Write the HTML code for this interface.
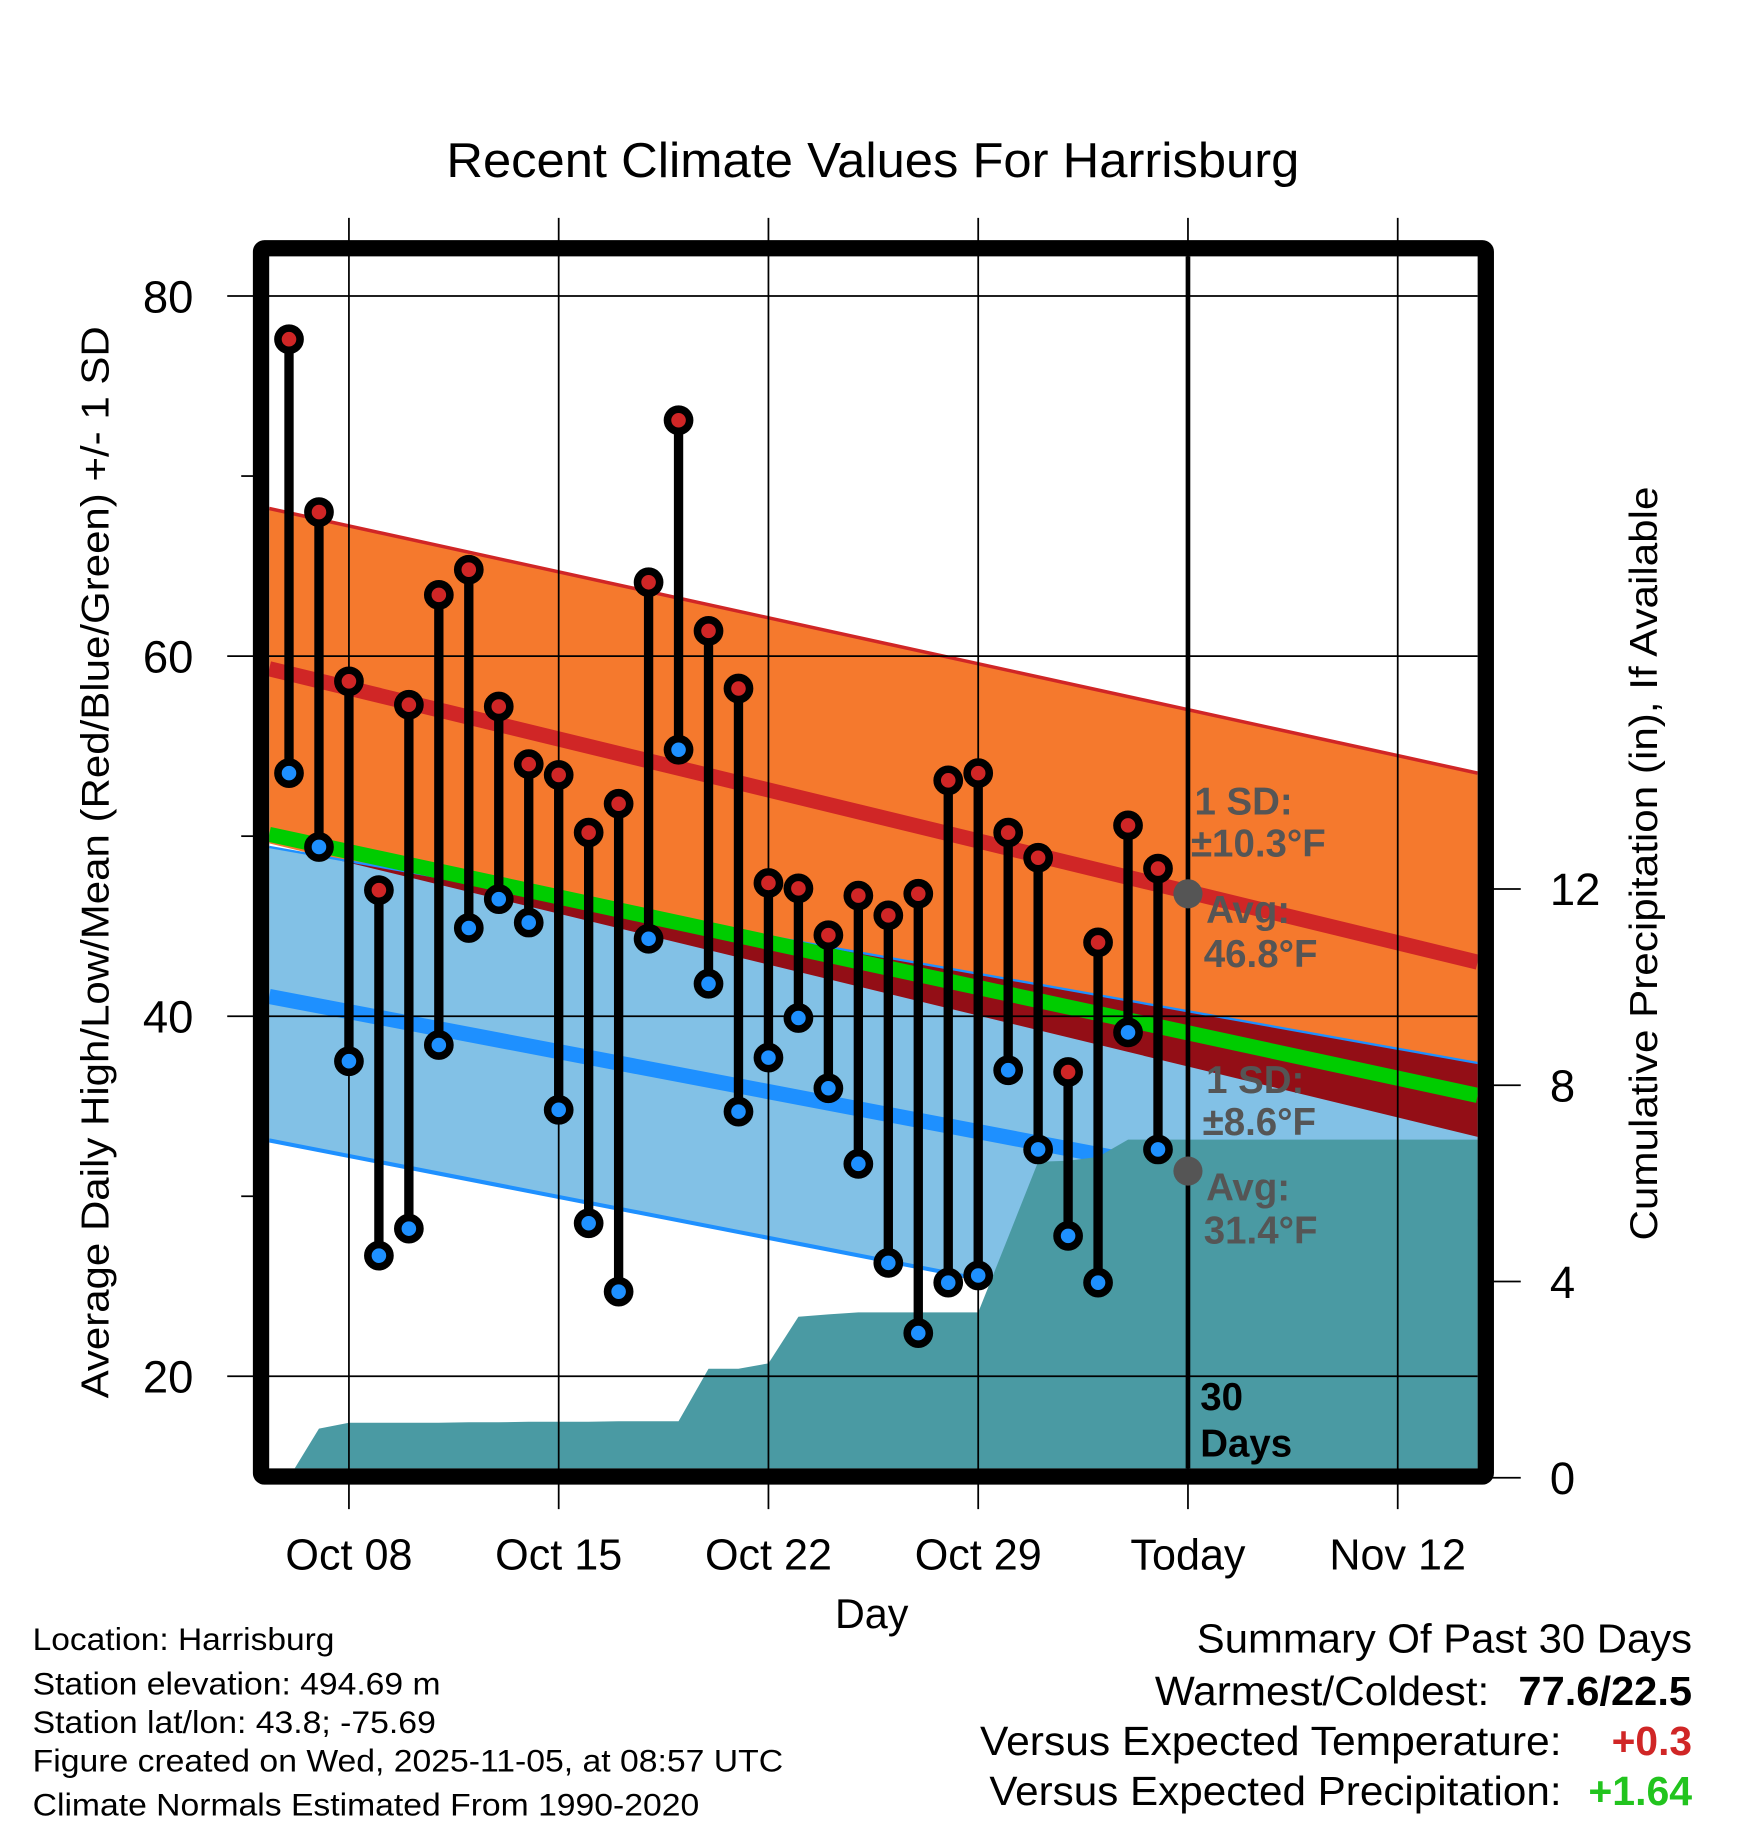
<!DOCTYPE html>
<html><head><meta charset="utf-8"><style>
html,body{margin:0;padding:0;background:#fff}
svg{display:block}
text{font-family:"Liberation Sans",Arial,sans-serif}
</style></head><body>
<svg id="chart" width="1748" height="1828" viewBox="0 0 1500 1568.6" preserveAspectRatio="none" xmlns="http://www.w3.org/2000/svg">
<text x="749" y="152" font-size="42" text-anchor="middle" textLength="732" lengthAdjust="spacingAndGlyphs">Recent Climate Values For Harrisburg</text>
<g id="layers"></g>
<text transform="translate(93,740) rotate(-90)" font-size="33" text-anchor="middle" textLength="920" lengthAdjust="spacingAndGlyphs">Average Daily High/Low/Mean (Red/Blue/Green) +/- 1 SD</text>
<text transform="translate(1422,741) rotate(-90)" font-size="33" text-anchor="middle" textLength="647" lengthAdjust="spacingAndGlyphs">Cumulative Precipitation (in), If Available</text>
<text x="748" y="1397" font-size="36" text-anchor="middle" textLength="63" lengthAdjust="spacingAndGlyphs">Day</text>
<g font-size="27">
<text x="28" y="1416" textLength="259" lengthAdjust="spacingAndGlyphs">Location: Harrisburg</text>
<text x="28" y="1454" textLength="350" lengthAdjust="spacingAndGlyphs">Station elevation: 494.69 m</text>
<text x="28" y="1487" textLength="346" lengthAdjust="spacingAndGlyphs">Station lat/lon: 43.8; -75.69</text>
<text x="28" y="1520" textLength="644" lengthAdjust="spacingAndGlyphs">Figure created on Wed, 2025-11-05, at 08:57 UTC</text>
<text x="28" y="1558" textLength="572" lengthAdjust="spacingAndGlyphs">Climate Normals Estimated From 1990-2020</text>
</g>
<g font-size="35">
<text x="1027" y="1418" textLength="425" lengthAdjust="spacingAndGlyphs">Summary Of Past 30 Days</text>
<text x="991" y="1463" textLength="287" lengthAdjust="spacingAndGlyphs">Warmest/Coldest:</text>
<text x="1303" y="1463" font-weight="bold" textLength="149" lengthAdjust="spacingAndGlyphs">77.6/22.5</text>
<text x="841" y="1506" textLength="499" lengthAdjust="spacingAndGlyphs">Versus Expected Temperature:</text>
<text x="1383" y="1506" font-weight="bold" fill="#d02626" textLength="69" lengthAdjust="spacingAndGlyphs">+0.3</text>
<text x="849" y="1549" textLength="491" lengthAdjust="spacingAndGlyphs">Versus Expected Precipitation:</text>
<text x="1363" y="1549" font-weight="bold" fill="#22c41e" textLength="89" lengthAdjust="spacingAndGlyphs">+1.64</text>
</g>
</svg>
<script>
// data (day index 0 = Oct 06)
const highs = [77.6,68.0,58.6,47.0,57.3,63.4,64.8,57.2,54.0,53.4,50.2,51.8,64.1,73.1,61.4,58.2,47.4,47.1,44.5,46.7,45.6,46.8,53.1,53.5,50.2,48.8,36.9,44.1,50.6,48.2];
const lows  = [53.5,49.4,37.5,26.7,28.2,38.4,44.9,46.5,45.2,34.8,28.5,24.7,44.3,54.8,41.8,34.7,37.7,39.9,36.0,31.8,26.3,22.4,25.2,25.6,37.0,32.6,27.8,25.2,39.1,32.6];
const precip = [0,1.00,1.12,1.12,1.12,1.12,1.13,1.13,1.14,1.14,1.14,1.15,1.15,1.15,2.22,2.22,2.33,3.28,3.33,3.37,3.37,3.37,3.37,3.37,4.9,6.44,6.46,6.54,6.89,6.89];
// normals at plot left edge / right edge
const normHigh = [59.3,43.0];
const normHighPlusSD = [68.2,53.5];
const normHighMinusSD = [49.6,33.3];
const normMean = [50.1,35.6];
const normLow = [41.1,28.3];
const normLowPlusSD = [49.4,37.4];
const normLowMinusSD = [33.1,20.0];
const xTickLabels = ["Oct 08","Oct 15","Oct 22","Oct 29","Today","Nov 12"];
const xTickDays = [2,9,16,23,30,37];
const yTicks = [20,40,60,80];
const yMinor = [30,50,70];
const pTicks = [0,4,8,12];

const L=231,R=1268,T=220,B=1260;
const X=d=>248+d*25.714;
const Y=v=>254+(80-v)*15.45;
const P=v=>1268-v*42.1;
const NS="http://www.w3.org/2000/svg";
const g=document.getElementById('layers');
function mk(tag,attrs,parent){const e=document.createElementNS(NS,tag);for(const k in attrs)e.setAttribute(k,attrs[k]);(parent||g).appendChild(e);return e;}
const defs=mk('defs',{});const cp=mk('clipPath',{id:'pc'},defs);mk('rect',{x:L,y:T,width:R-L,height:B-T},cp);
const plot=mk('g',{'clip-path':'url(#pc)'});
function band(a,b,fill,name){
  const e=mk('polygon',{points:`${L},${Y(a[0])} ${R},${Y(a[1])} ${R},${Y(b[1])} ${L},${Y(b[0])}`,fill:fill},plot);
  
  
}
function line(a,col,w,name){
  const e=mk('line',{x1:L,y1:Y(a[0]),x2:R,y2:Y(a[1]),stroke:col,'stroke-width':w},plot);
  
  
}
band(normHighPlusSD,normHighMinusSD,'#f5792d','high-sd-band');
band(normLowPlusSD,normLowMinusSD,'#82c1e6','low-sd-band');
{
  const d0=normHighMinusSD[0]-normLowPlusSD[0], d1=normHighMinusSD[1]-normLowPlusSD[1];
  let t=d0/(d0-d1); if(t<0)t=0; if(t>1)t=1;
  const xi=L+t*(R-L), vi=normLowPlusSD[0]+t*(normLowPlusSD[1]-normLowPlusSD[0]);
  const e=mk('polygon',{points:`${xi},${Y(vi)} ${R},${Y(normLowPlusSD[1])} ${R},${Y(normHighMinusSD[1])}`,fill:'#930e16'},plot);
  
  
}
line(normHighPlusSD,'#d02626',3,'high-plus-sd-line');
line(normLowPlusSD,'#1e90ff',2,'low-plus-sd-line');
line(normLowMinusSD,'#1e90ff',3.5,'low-minus-sd-line');
line(normMean,'#00cc00',13,'normal-mean-line');
line(normHigh,'#d02626',13,'normal-high-line');
line(normLow,'#1e90ff',13,'normal-low-line');
xTickDays.forEach((d,i)=>{
  const e=mk('line',{x1:X(d),y1:187,x2:X(d),y2:1295,stroke:'#000','stroke-width':1.5});
  
  
  const t=mk('text',{x:X(d),y:1347,'font-size':37,'text-anchor':'middle'});t.textContent=xTickLabels[i];
  
  
});
yTicks.forEach(v=>{
  const e=mk('line',{x1:195,y1:Y(v),x2:R,y2:Y(v),stroke:'#000','stroke-width':1.5});
  
  
  const t=mk('text',{x:166,y:Y(v)+14,'font-size':39,'text-anchor':'end'});t.textContent=v;
  
  
});
yMinor.forEach(v=>{
  const e=mk('line',{x1:207,y1:Y(v),x2:220,y2:Y(v),stroke:'#000','stroke-width':1.5});
  
  
});
pTicks.forEach(v=>{
  const e=mk('line',{x1:1280,y1:P(v),x2:1305,y2:P(v),stroke:'#000','stroke-width':1.5});
  
  
  const t=mk('text',{x:1330,y:P(v)+14,'font-size':39});t.textContent=v;
  
  
});
{
  let pts=`${X(0)},${B+20} `;
  precip.forEach((v,i)=>{pts+=`${X(i)},${P(v)} `;});
  pts+=`${R+10},${P(precip[precip.length-1])} ${R+10},${B+20}`;
  const e=mk('polygon',{points:pts,fill:'#4a9aa3'},plot);
  
  
}
{
  const e=mk('line',{x1:X(30),y1:T,x2:X(30),y2:B,stroke:'#000','stroke-width':4});
  
  
}
const ann=[["1 SD:",1025,699,'#555'],["±10.3°F",1022,735,'#555'],["Avg:",1035,792,'#555'],["46.8°F",1033,830,'#555'],
["1 SD:",1035,938,'#555'],["±8.6°F",1032,974,'#555'],["Avg:",1035,1030,'#555'],["31.4°F",1033,1067,'#555'],
["30",1030,1210,'#000'],["Days",1030,1250,'#000']];
ann.forEach(a=>{
  const t=mk('text',{x:a[1],y:a[2],'font-size':33,'font-weight':'bold',fill:a[3]});t.textContent=a[0];
  
  
});
[46.8,31.4].forEach(v=>{
  const c=mk('circle',{cx:X(30),cy:Y(v),r:12.5,fill:'#555'});
  
  
});
highs.forEach((h,i)=>{
  const s=mk('line',{x1:X(i),y1:Y(h),x2:X(i),y2:Y(lows[i]),stroke:'#000','stroke-width':8});
  
  
});
highs.forEach((h,i)=>{
  const a=mk('circle',{cx:X(i),cy:Y(h),r:9.5,fill:'#d02626',stroke:'#000','stroke-width':6.5});
  
  
  const b=mk('circle',{cx:X(i),cy:Y(lows[i]),r:9.5,fill:'#1e90ff',stroke:'#000','stroke-width':6.5});
  
  
});
{
  const f=mk('rect',{x:224,y:213,width:1051,height:1054,fill:'none',stroke:'#000','stroke-width':14,rx:3});
  
  
}
</script>
</body></html>
